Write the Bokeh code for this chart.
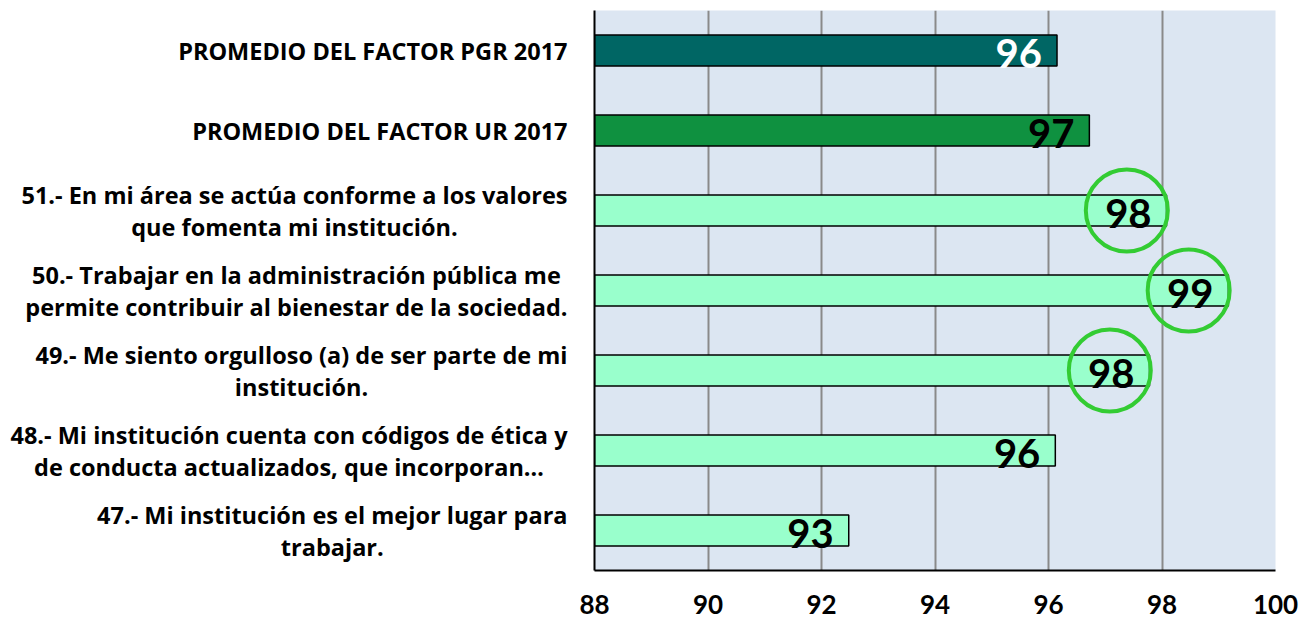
from bokeh.plotting import figure
from bokeh.models import ColumnDataSource, FactorRange, Range1d, FixedTicker
from bokeh.embed import file_html
from bokeh.resources import INLINE
from bokeh.core.properties import value

# ---- data ----
categories = [
    "PROMEDIO DEL FACTOR PGR 2017",
    "PROMEDIO DEL FACTOR UR 2017",
    "51.- En mi área se actúa conforme a los valores\nque fomenta mi institución.",
    "50.- Trabajar en la administración pública me\npermite contribuir al bienestar de la sociedad.",
    "49.- Me siento orgulloso (a) de ser parte de mi\ninstitución.",
    "48.- Mi institución cuenta con códigos de ética y\nde conducta actualizados, que incorporan…",
    "47.- Mi institución es el mejor lugar para\ntrabajar.",
]
values = [96.15, 96.72, 98.08, 99.17, 97.78, 96.12, 92.48]
labels = ["96", "97", "98", "99", "98", "96", "93"]
circled = [False, False, True, True, True, False, False]
ticks = [88, 90, 92, 94, 96, 98, 100]

bar_colors = ["#006664", "#0f9140"] + ["#99ffcc"] * 5
label_colors = ["#ffffff"] + ["#000000"] * 6

keys = [f"c{i}" for i in range(len(categories))]
FONT = "Open Sans"

src = ColumnDataSource(dict(
    key=keys, cat=categories, val=values, lab=labels,
    bc=bar_colors, lc=label_colors,
    left=[ticks[0]] * len(values),
))

p = figure(
    y_range=FactorRange(factors=list(reversed(keys))),
    x_range=Range1d(ticks[0], ticks[-1]),
    width=1299, height=626,
    min_border_left=594, min_border_right=24, min_border_top=10, min_border_bottom=56,
    output_backend="svg", toolbar_location=None,
    background_fill_color="#dce6f2", border_fill_color="white",
)
p.outline_line_color = None

p.hbar(y="key", left="left", right="val", height=0.39, source=src,
       fill_color="bc", line_color="black", line_width=1.5)

p.text(x="val", y="key", text="lab", source=src, x_offset=-15, y_offset=3,
       text_align="right", text_baseline="middle", text_color="lc",
       text_font=value("Lato"), text_font_style="bold", text_font_size="40px")

csrc = ColumnDataSource(dict(
    x=[v - 0.7 for v, c in zip(values, circled) if c],
    y=[k for k, c in zip(keys, circled) if c],
))
p.scatter(x="x", y="y", source=csrc, marker="circle", size=82,
          fill_alpha=0, line_color="#33cc33", line_width=4)

# category labels (multi-line, centred lines, right anchored)
lab_r = p.text(x="left", y="key", text="cat", source=src, x_offset=-27,
               anchor="center_right", text_align="center", text_baseline="middle",
               text_color="black", text_font=value(FONT), text_font_style="bold",
               text_font_size="23.5px", text_line_height=1.0)
lab_r.level = "overlay"

# axes
p.xaxis.ticker = FixedTicker(ticks=ticks)
p.xaxis.major_tick_in = 0
p.xaxis.major_tick_out = 0
p.xaxis.minor_tick_line_color = None
p.xaxis.axis_line_color = "black"
p.xaxis.axis_line_width = 2
p.xaxis.major_label_standoff = 24
p.xaxis.major_label_text_font = "Lato"
p.xaxis.major_label_text_font_style = "bold"
p.xaxis.major_label_text_font_size = "26px"
p.xaxis.major_label_text_color = "black"

p.yaxis.major_tick_in = 0
p.yaxis.major_tick_out = 0
p.yaxis.axis_line_color = "black"
p.yaxis.axis_line_width = 2
p.yaxis.major_label_text_font_size = "0px"
p.yaxis.major_label_text_alpha = 0

p.xgrid.grid_line_color = "#8a8a8a"
p.xgrid.grid_line_width = 2
p.ygrid.grid_line_color = None

open("out.html", "w").write(file_html(p, INLINE))
